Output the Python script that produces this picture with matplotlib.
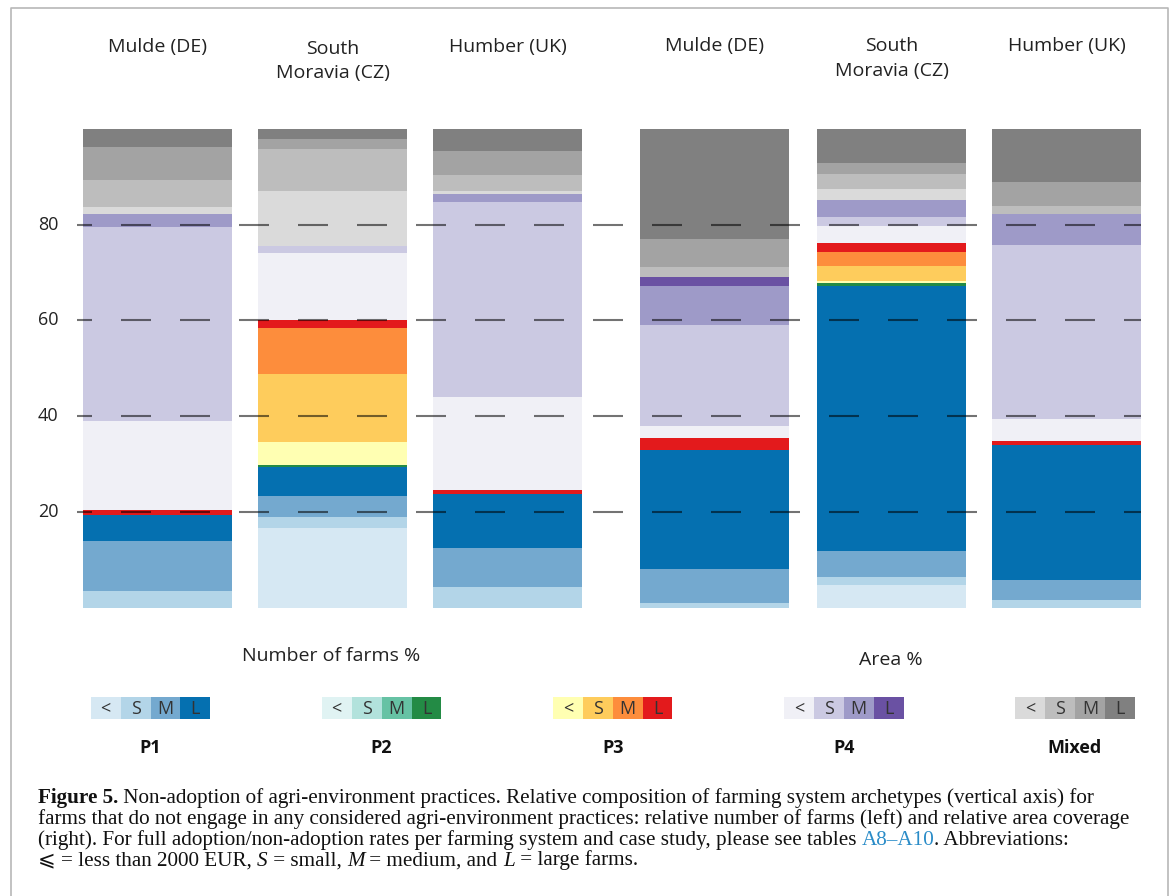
import numpy as np
import matplotlib
matplotlib.use("Agg")
import matplotlib.pyplot as plt
from matplotlib.patches import Rectangle

plt.rcParams['font.family'] = ['Open Sans', 'DejaVu Sans']
plt.rcParams['lines.scale_dashes'] = False

# ---- data (percent, stacked bottom -> top) ----
regions = ["Mulde (DE)", "South\nMoravia (CZ)", "Humber (UK)"]
systems = ["P1", "P2", "P3", "P4", "Mixed"]
sizes = ["<", "S", "M", "L"]

# segment order: P1 <,S,M,L | P2 <,S,M,L | P3 <,S,M,L | P4 <,S,M,L | Mixed <,S,M,L
farms_mulde = [0, 3.55, 10.45, 5.4,  0, 0, 0, 0,  0, 0, 0, 0.9,
               18.7, 40.5, 2.8, 0,  1.4, 5.7, 6.8, 3.8]
farms_moravia = [16.6, 2.4, 4.2, 6.1,  0, 0, 0, 0.5,  4.7, 14.4, 9.5, 1.6,
                 14.1, 1.5, 0, 0,  11.4, 8.9, 2.1, 2.0]
farms_humber = [0, 4.2, 8.2, 11.4,  0, 0, 0, 0,  0, 0, 0, 0.7,
                19.5, 40.7, 1.8, 0,  0.5, 3.4, 5.1, 4.5]
area_mulde = [0, 0.9, 7.2, 24.9,  0, 0, 0, 0,  0, 0, 0, 2.4,
              2.6, 21.1, 8.0, 2.0,  0, 2.0, 6.0, 22.9]
area_moravia = [4.7, 1.6, 5.5, 55.3,  0, 0, 0, 0.7,  0.5, 3.0, 2.9, 2.0,
                3.5, 2.0, 3.4, 0,  2.4, 3.0, 2.3, 7.2]
area_humber = [0, 1.6, 4.2, 28.2,  0, 0, 0, 0,  0, 0, 0, 0.9,
               4.5, 36.4, 6.5, 0,  0, 1.7, 4.9, 11.1]

bars = [farms_mulde, farms_moravia, farms_humber,
        area_mulde, area_moravia, area_humber]
grid_values = [20, 40, 60, 80]

palette = {
    "P1": ['#d6e8f3', '#b3d5e8', '#74a9cf', '#0570b0'],
    "P2": ['#e0f3f3', '#b2e2dc', '#66c2a4', '#238b45'],
    "P3": ['#ffffb2', '#fecc5c', '#fd8d3c', '#e31a1c'],
    "P4": ['#f0f0f6', '#cbc9e2', '#9e9ac8', '#6a51a3'],
    "Mixed": ['#dadada', '#bdbdbd', '#a3a3a3', '#808080'],
}
seg_colors = [c for s in systems for c in palette[s]]

# ---- layout (pixels) ----
W, H = 1170, 896
bar_left = [83, 258, 433, 640, 817, 992]
bar_w = 149
y0_px, y100_px = 607.5, 129.0

fig = plt.figure(figsize=(W / 100, H / 100), dpi=100)
ax = fig.add_axes([0, (H - y0_px) / H, 1, (y0_px - y100_px) / H])
ax.set_xlim(0, W)
ax.set_ylim(0, 100)
ax.axis('off')

data = np.array(bars)
bottoms = np.zeros(len(bars))
centers = np.array(bar_left) + bar_w / 2
for k in range(data.shape[1]):
    ax.bar(centers, data[:, k], bar_w, bottom=bottoms, color=seg_colors[k],
           linewidth=0)
    bottoms += data[:, k]

px2pt = 0.72
for v in grid_values:
    ax.plot([76.7, 1141], [v, v], color='black', alpha=0.55, lw=1.5,
            linestyle=(15 * px2pt, (30 * px2pt, 29 * px2pt)))
    ax.text(48, v, str(v), ha='center', va='center', fontsize=13,
            color='#222222')

# overlay in pixel coordinates
ov = fig.add_axes([0, 0, 1, 1])
ov.set_xlim(0, W)
ov.set_ylim(H, 0)
ov.axis('off')

ov.plot([10.5, 10.5, 1167.5, 1167.5], [H, 8.5, 8.5, H], color='#b8b8b8',
        lw=1.2)

title_y = [47, 46]
two_line_y = [61, 58.5]
for g in range(2):
    for r, name in enumerate(regions):
        cx = centers[g * 3 + r]
        if "\n" in name:
            ov.text(cx, two_line_y[g], name, ha='center', va='center',
                    fontsize=14, color='#222222', linespacing=1.45)
        else:
            ov.text(cx, title_y[g], name, ha='center', va='center',
                    fontsize=14, color='#222222')

ov.text(331, 656, "Number of farms %", ha='center', va='center', fontsize=14,
        color='#222222')
ov.text(891, 660, "Area %", ha='center', va='center', fontsize=14,
        color='#222222')

# legend swatches
leg_x0, leg_step, box_w, box_h, box_y = 90.7, 231.1, 29.9, 21.7, 697.3
for i, s in enumerate(systems):
    x = leg_x0 + i * leg_step
    for j, sz in enumerate(sizes):
        ov.add_patch(Rectangle((x + j * box_w, box_y), box_w, box_h,
                               facecolor=palette[s][j], edgecolor='none'))
        ov.text(x + (j + 0.5) * box_w, box_y + box_h / 2 + 0.5, sz,
                ha='center', va='center', fontsize=13, color='#333333')
    ov.text(x + 2 * box_w, 748, s, ha='center', va='center', fontsize=13,
            fontweight='bold', color='#111111')

# caption, placed piece by piece
renderer = fig.canvas.get_renderer()
serif = ['Liberation Serif', 'DejaVu Serif', 'DejaVu Sans']
cap_size = 15.2
link = '#2a8cc8'


def advance(s, **kw):
    t1 = ov.text(0, 0, "|" + s + "|", **kw)
    t2 = ov.text(0, 0, "||", **kw)
    w = t1.get_window_extent(renderer).width - t2.get_window_extent(renderer).width
    t1.remove()
    t2.remove()
    return w


def put_line(x, y, pieces):
    for s, kw in pieces:
        style = dict(family=serif, fontsize=cap_size, color='#111111')
        style.update(kw)
        ov.text(x, y, s, ha='left', va='baseline', **style)
        x += advance(s, **style)


cap_lines = [
    [("Figure 5.", dict(fontweight='bold')),
     (" Non-adoption of agri-environment practices. Relative composition of "
      "farming system archetypes (vertical axis) for", {})],
    [("farms that do not engage in any considered agri-environment practices: "
      "relative number of farms (left) and relative area coverage", {})],
    [("(right). For full adoption/non-adoption rates per farming system and "
      "case study, please see tables ", {}),
     ("A8\u2013A10", dict(color=link)),
     (". Abbreviations:", {})],
    [("\u2a7d = less than 2000 EUR, ", {}), ("S", dict(style='italic')),
     (" = small, ", {}), ("M", dict(style='italic')),
     (" = medium, and ", {}), ("L", dict(style='italic')),
     (" = large farms.", {})],
]
cap_base = [803, 824, 845, 865.5]
for pieces, yb in zip(cap_lines, cap_base):
    put_line(38, yb, pieces)

fig.savefig("out.png", dpi=100)
